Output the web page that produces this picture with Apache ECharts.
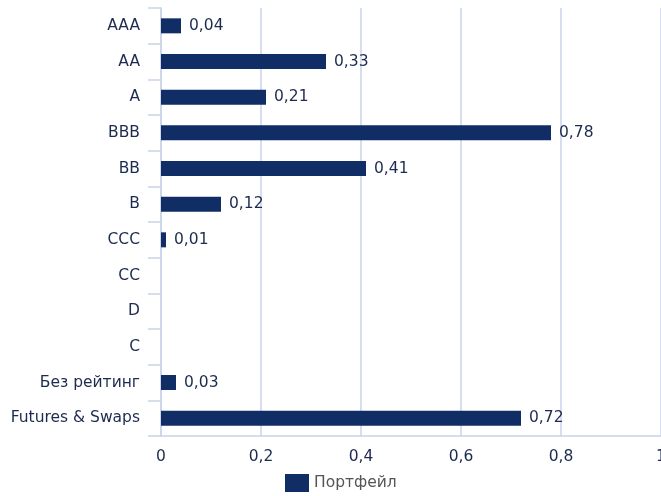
<!DOCTYPE html>
<html>
<head>
<meta charset="utf-8">
<script src="https://cdn.jsdelivr.net/npm/echarts@6/dist/echarts.min.js"></script>
<style>
  html, body { margin: 0; padding: 0; background: #fff; }
  #chart { width: 661px; height: 496px; }
</style>
</head>
<body>
<div id="chart"></div>
<script>
// рейтинги (сверху вниз)
const categories = ['AAA', 'AA', 'A', 'BBB', 'BB', 'B', 'CCC', 'CC', 'D', 'C', 'Без рейтинг', 'Futures & Swaps']
const portfolio = [0.04, 0.33, 0.21, 0.78, 0.41, 0.12, 0.01, null, null, null, 0.03, 0.72]
const xTicks = [0, 0.2, 0.4, 0.6, 0.8, 1]

const fmt = v => String(v).replace('.', ',')
const textColor = '#1c2b4f'
const lineColor = '#c8d4ea'

let myChart = echarts.init(document.getElementById('chart'))

let option = {
    color: ['#112d66'],
    textStyle: { fontFamily: 'DejaVu Sans' },
    grid: {
        left: 161,
        right: 0,
        top: 8,
        bottom: 60,
        outerBoundsMode: 'none'
    },
    legend: {
        data: ['Портфейл'],
        left: 285,
        top: 474,
        padding: 0,
        icon: 'rect',
        itemWidth: 24,
        itemHeight: 18,
        itemGap: 8,
        textStyle: { color: '#555', fontSize: 15.5, fontFamily: 'DejaVu Sans' }
    },
    xAxis: {
        type: 'value',
        min: 0,
        max: 1,
        interval: 0.2,
        axisLine: { show: true, lineStyle: { color: lineColor, width: 1.5 } },
        axisTick: { show: false },
        splitLine: { show: true, lineStyle: { color: lineColor, width: 1.5 } },
        axisLabel: {
            color: textColor,
            fontSize: 15.5,
            margin: 13,
            formatter: v => xTicks.indexOf(Math.round(v * 10) / 10) >= 0 ? fmt(Math.round(v * 10) / 10) : ''
        }
    },
    yAxis: {
        type: 'category',
        inverse: true,
        data: categories,
        axisLine: { show: true, lineStyle: { color: lineColor, width: 1.5 } },
        axisTick: { show: true, length: 13, lineStyle: { color: lineColor, width: 1.5 } },
        axisLabel: { color: textColor, fontSize: 15.5, margin: 21 }
    },
    series: [{
        name: 'Портфейл',
        type: 'bar',
        data: portfolio,
        barWidth: 15,
        label: {
            show: true,
            position: 'right',
            distance: 8,
            color: textColor,
            fontSize: 15.5,
            formatter: p => fmt(p.value)
        }
    }]
}

myChart.setOption(option)
</script>
</body>
</html>
